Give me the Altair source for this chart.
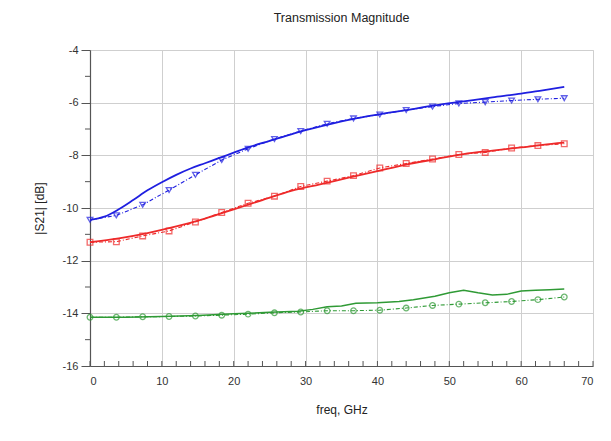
import altair as alt
import pandas as pd

# ---- data ----
freq_meas = [0, 3.67, 7.33, 11, 14.67, 18.33, 22, 25.67, 29.33, 33, 36.67,
             40.33, 44, 47.67, 51.33, 55, 58.67, 62.33, 66]
blue_meas = [-10.45, -10.28, -9.88, -9.32, -8.74, -8.18, -7.75, -7.38, -7.08, -6.8,
             -6.6, -6.45, -6.28, -6.15, -6.03, -5.98, -5.92, -5.87, -5.83]
red_meas = [-11.3, -11.28, -11.06, -10.87, -10.53, -10.17, -9.82, -9.55, -9.18, -8.98,
            -8.77, -8.48, -8.31, -8.14, -7.97, -7.89, -7.72, -7.63, -7.56]
green_meas = [-14.15, -14.15, -14.13, -14.12, -14.1, -14.07, -14.03, -13.98, -13.95, -13.9,
              -13.9, -13.88, -13.8, -13.7, -13.65, -13.6, -13.55, -13.48, -13.38]

freq_blue_sim = [0, 2, 4, 6, 8, 10, 12, 14, 16, 18, 20, 22, 25, 28, 31, 34, 37, 40,
                 44, 48, 52, 56, 60, 63, 66]
blue_sim = [-10.45, -10.33, -10.05, -9.7, -9.33, -9.02, -8.74, -8.5, -8.3, -8.1, -7.9, -7.7,
            -7.45, -7.2, -6.98, -6.78, -6.6, -6.45, -6.28, -6.1, -5.95, -5.8, -5.66, -5.53, -5.4]

freq_red_sim = [0, 4, 8, 12, 16, 20, 24, 28, 32, 36, 40, 44, 48, 52, 56, 60, 63, 66]
red_sim = [-11.3, -11.15, -10.95, -10.7, -10.4, -10.05, -9.7, -9.35, -9.1, -8.85, -8.6,
           -8.35, -8.15, -7.95, -7.82, -7.7, -7.6, -7.52]

freq_green_sim = [0, 5, 10, 15, 20, 25, 29, 31, 33, 35, 37, 40, 43, 45, 48, 50, 52, 54,
                  56, 58, 60, 62, 64, 66]
green_sim = [-14.15, -14.15, -14.12, -14.08, -14.02, -13.96, -13.92, -13.85, -13.75, -13.72,
             -13.62, -13.6, -13.55, -13.48, -13.35, -13.22, -13.12, -13.22, -13.3, -13.28,
             -13.15, -13.12, -13.1, -13.08]

series_names = ["blue", "red", "green"]
series_colors = ["#1f1fe0", "#ee2a2a", "#2f9a35"]

x_major = [0, 10, 20, 30, 40, 50, 60, 70]
y_major = [-4, -6, -8, -10, -12, -14, -16]
y_minor = [-5, -7, -9, -11, -13, -15]
x_minor = [0, 2, 4, 6, 8, 10, 12, 14, 16, 18, 20, 22, 24, 26, 28, 30, 32, 34, 36, 38, 40,
           42, 44, 46, 48, 50, 52, 54, 56, 58, 60, 62, 64, 66, 68, 70]

# ---- tables ----
sim_smooth_rows = []
for name, fr, vals in [("blue", freq_blue_sim, blue_sim), ("red", freq_red_sim, red_sim)]:
    for f, v in zip(fr, vals):
        sim_smooth_rows.append({"series": name, "freq": f, "s21": v})
sim_smooth_df = pd.DataFrame(sim_smooth_rows)
sim_green_df = pd.DataFrame({"series": "green", "freq": freq_green_sim, "s21": green_sim})

meas_rows = []
for name, vals in [("blue", blue_meas), ("red", red_meas), ("green", green_meas)]:
    for f, v in zip(freq_meas, vals):
        meas_rows.append({"series": name, "freq": f, "s21": v})
meas_df = pd.DataFrame(meas_rows)

W, H = 503, 316
FONT = "Liberation Sans"

xscale = alt.Scale(domain=[0, 70], nice=False, zero=False)
yscale = alt.Scale(domain=[-16, -4], nice=False, zero=False)
cscale = alt.Scale(domain=series_names, range=series_colors)

xaxis = alt.Axis(values=x_major, title="freq, GHz", grid=True, gridColor="#cfcfcf",
                 gridWidth=1, ticks=False, labelPadding=9, labelFontSize=11,
                 labelColor="#333333", titleFontSize=12, titleFontWeight="normal",
                 titleColor="#222222", titlePadding=18, domainColor="#555555",
                 domainWidth=1.2, labelFont=FONT, titleFont=FONT,
                 labelExpr="'' + datum.value")
yaxis = alt.Axis(values=y_major, title="|S21| [dB]", grid=True, gridColor="#cfcfcf",
                 gridWidth=1, tickSize=9, tickColor="#555555", labelPadding=3,
                 labelFontSize=11, labelColor="#333333", titleFontSize=12,
                 titleFontWeight="normal", titleColor="#222222", titlePadding=16,
                 domainColor="#555555", domainWidth=1.2, labelFont=FONT, titleFont=FONT,
                 labelExpr="'' + datum.value")

sim = alt.Chart(sim_smooth_df).mark_line(strokeWidth=1.8, interpolate="monotone").encode(
    x=alt.X("freq:Q", scale=xscale, axis=xaxis),
    y=alt.Y("s21:Q", scale=yscale, axis=yaxis),
    color=alt.Color("series:N", scale=cscale, legend=None),
    detail="series:N",
)

sim_green = alt.Chart(sim_green_df).mark_line(strokeWidth=1.5).encode(
    x=alt.X("freq:Q", scale=xscale),
    y=alt.Y("s21:Q", scale=yscale),
    color=alt.Color("series:N", scale=cscale, legend=None),
)

meas_line = alt.Chart(meas_df).mark_line(strokeWidth=1.1, strokeDash=[4, 2, 1, 2]).encode(
    x=alt.X("freq:Q", scale=xscale),
    y=alt.Y("s21:Q", scale=yscale),
    color=alt.Color("series:N", scale=cscale, legend=None),
    detail="series:N",
)

shape_scale = alt.Scale(domain=series_names, range=["triangle-down", "square", "circle"])
meas_pts = alt.Chart(meas_df).mark_point(filled=False, size=32, strokeWidth=1.3).encode(
    x=alt.X("freq:Q", scale=xscale),
    y=alt.Y("s21:Q", scale=yscale),
    color=alt.Color("series:N", scale=cscale, legend=None),
    shape=alt.Shape("series:N", scale=shape_scale, legend=None),
)

ymin_df = pd.DataFrame({"v": y_minor})
ymin_ticks = alt.Chart(ymin_df).mark_rule(color="#555555", strokeWidth=1).encode(
    y=alt.Y("v:Q", scale=yscale),
    x=alt.value(-5), x2=alt.value(0),
)

xmin_df = pd.DataFrame({"v": x_minor})
xmin_ticks = alt.Chart(xmin_df).mark_rule(color="#555555", strokeWidth=1).encode(
    x=alt.X("v:Q", scale=xscale),
    y=alt.value(H - 5), y2=alt.value(H),
)

chart = alt.layer(sim, sim_green, meas_line, meas_pts, ymin_ticks, xmin_ticks).properties(
    width=W, height=H,
    title=alt.TitleParams("Transmission Magnitude", fontSize=12.5, fontWeight="normal",
                          color="#222222", font=FONT, anchor="middle", offset=20),
    autosize=alt.AutoSizeParams(type="none"),
    padding={"left": 82, "top": 42, "right": 10, "bottom": 67},
).configure_view(stroke="#9a9a9a", strokeWidth=1.5).configure(background="white")

chart.save("out.html", embed_options={"renderer": "svg", "actions": False})
